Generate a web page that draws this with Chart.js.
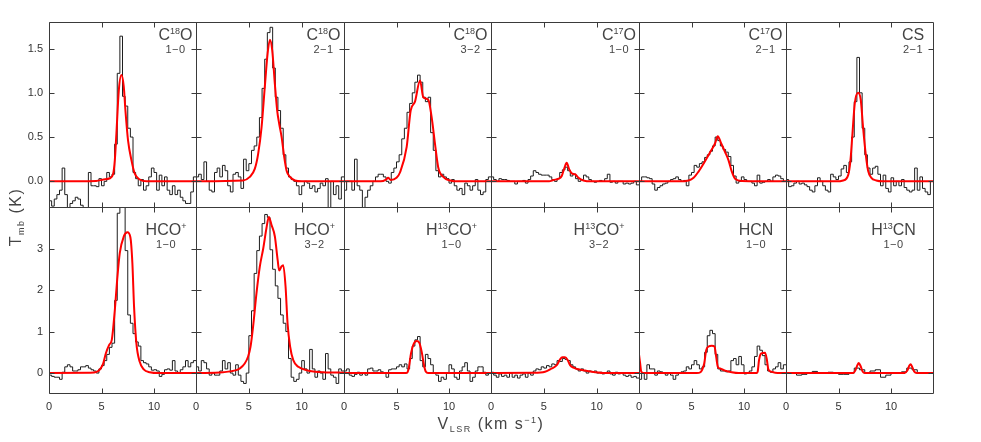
<!DOCTYPE html>
<html>
<head>
<meta charset="utf-8">
<script src="https://cdn.jsdelivr.net/npm/chart.js@4.4.1/dist/chart.umd.min.js"></script>
<style>
html,body{margin:0;padding:0;background:#fff;}
#wrap{position:relative;width:981px;height:442px;overflow:hidden;background:#fff;}
#wrap canvas{position:absolute;}
#txt{position:absolute;left:0;top:0;pointer-events:none;z-index:5;}
</style>
</head>
<body>
<div id="wrap"></div>
<script>
// ---------------- DATA ----------------
const velocityTicks = [0, 5, 10];
const velocityTickLabels = ['0', '5', '10'];
const tmbTicksTop = [0, 0.5, 1.0, 1.5];
const tmbTickLabelsTop = ['0.0', '0.5', '1.0', '1.5'];
const tmbTicksBottom = [0, 1, 2, 3];
const tmbTickLabelsBottom = ['0', '1', '2', '3'];

const transitions = ['1−0','2−1','3−2','1−0','2−1','2−1','1−0','3−2','1−0','3−2','1−0','1−0'];
const speciesParts = [
  [['C'],['18','sup'],['O']],
  [['C'],['18','sup'],['O']],
  [['C'],['18','sup'],['O']],
  [['C'],['17','sup'],['O']],
  [['C'],['17','sup'],['O']],
  [['CS']],
  [['HCO'],['+','sup']],
  [['HCO'],['+','sup']],
  [['H'],['13','sup'],['CO'],['+','sup']],
  [['H'],['13','sup'],['CO'],['+','sup']],
  [['HCN']],
  [['H'],['13','sup'],['CN']]
];

// channel grid (km/s): start velocity and channel width per spectrum
const chanStart = [0,0,0,0,0,0,0,0,0,0,0,0];
const chanWidth = [0.25,0.25,0.25,0.25,0.25,0.25,0.25,0.25,0.25,0.25,0.25,0.5];

// observed spectra, Tmb (K) per channel
const C18O_10_obs = [-0.22,-0.28,-0.2,-0.15,-0.1,0.15,-0.15,-0.3,-0.25,-0.22,-0.18,-0.2,-0.27,-0.3,-0.3,0.1,-0.05,-0.05,-0.06,0.03,-0.05,0.0,0.1,0.05,0.08,0.42,1.22,1.64,0.96,0.85,0.6,0.5,0.1,0.03,-0.05,0.02,-0.1,-0.05,0.05,0.15,0.1,-0.1,0.07,-0.05,0.05,-0.1,-0.15,-0.05,-0.15,-0.1,-0.18,-0.22,-0.25,-0.25,-0.12,0.05];
const C18O_21_obs = [0.05,0.08,0.02,0.22,0.0,-0.1,-0.12,0.1,0.15,0.05,0.18,0.12,-0.05,-0.12,0.08,0.1,0.05,-0.08,0.25,0.12,0.2,0.35,0.4,0.5,0.72,1.05,1.38,1.68,1.74,1.28,0.95,0.8,0.6,0.3,0.15,0.05,0.02,0.0,-0.05,-0.15,-0.05,0.0,-0.02,-0.08,-0.05,-0.12,-0.08,-0.02,-0.05,0.03,-0.3,0.0,-0.15,-0.05,-0.2,0.05];
const C18O_32_obs = [-0.1,0.0,0.0,-0.1,0.25,-0.05,-0.1,-0.3,-0.18,-0.1,-0.05,0.0,0.05,0.08,0.08,0.05,0.0,-0.02,0.1,0.15,0.22,0.3,0.48,0.6,0.78,0.88,1.0,1.12,1.2,1.12,0.95,0.9,0.95,0.55,0.35,0.12,0.05,0.08,0.05,0.03,-0.02,0.02,-0.05,-0.1,-0.08,-0.15,-0.02,-0.05,-0.1,-0.05,0.02,-0.1,-0.15,-0.12,0.02,0.05];
const C17O_10_obs = [0.05,0.02,0.0,0.03,0.02,0.02,0.01,0.0,0.0,-0.03,0.0,0.0,0.01,-0.02,0.02,0.06,0.12,0.1,0.08,0.07,0.07,0.07,0.05,0.02,0.0,0.03,0.1,0.13,0.16,0.12,0.06,0.08,0.03,0.0,0.02,0.07,0.05,0.02,0.0,-0.01,0.0,0.01,0.0,0.03,0.08,-0.01,0.0,-0.02,0.0,0.0,-0.03,-0.02,-0.03,-0.02,0.0,-0.04];
const C17O_21_obs = [0.0,0.05,0.05,0.04,0.03,-0.03,-0.1,-0.07,-0.05,-0.03,-0.02,0.0,0.02,0.03,0.05,0.02,0.0,0.01,-0.05,0.07,0.1,0.18,0.16,0.2,0.22,0.27,0.3,0.34,0.4,0.5,0.46,0.4,0.36,0.33,0.28,0.18,0.06,-0.02,0.0,0.05,0.02,0.0,0.0,-0.02,-0.05,0.07,-0.02,-0.01,0.0,0.02,0.0,0.05,0.07,0.06,0.03,0.0];
const CS_21_obs = [0.02,-0.06,-0.05,-0.02,0.0,-0.03,-0.02,-0.04,-0.06,-0.1,-0.12,-0.05,0.04,0.0,-0.05,-0.1,-0.12,0.08,0.05,0.02,0.06,0.14,0.18,0.1,0.22,0.5,0.9,1.4,1.0,0.6,0.3,0.15,0.08,0.15,0.17,0.08,-0.05,0.07,-0.08,-0.12,0.04,-0.05,0.0,-0.05,0.02,-0.07,-0.1,-0.12,-0.1,0.15,-0.1,0.05,-0.08,-0.12,-0.15,0.0];
const HCOp_10_obs = [-0.05,-0.08,-0.1,-0.1,-0.15,0.02,0.15,0.2,0.15,0.05,0.05,0.08,0.15,0.15,0.18,0.12,0.08,0.05,0.0,0.1,0.18,0.3,0.45,0.62,0.72,1.75,3.85,4.5,4.3,2.95,1.4,1.2,0.95,0.75,0.65,0.3,0.25,0.22,0.15,0.07,0.08,0.05,-0.08,-0.03,0.08,0.1,0.07,0.3,0.05,0.0,0.08,0.15,0.3,0.15,0.25,0.3];
const HCOp_32_obs = [0.15,0.05,0.3,0.25,0.1,-0.05,0.0,-0.05,-0.05,0.05,0.3,0.1,0.25,0.0,-0.05,0.2,-0.05,-0.2,-0.25,0.0,0.9,1.5,2.4,2.95,3.3,3.6,3.82,3.75,2.97,2.5,2.1,1.8,1.4,1.2,1.0,0.35,-0.1,-0.2,-0.15,0.0,0.3,0.1,0.0,0.57,0.1,-0.1,0.05,0.0,-0.15,0.47,0.1,-0.05,-0.1,-0.25,0.1,0.05];
const H13COp_10_obs = [0.05,0.1,-0.05,-0.08,-0.03,0.02,-0.05,0.0,-0.05,0.1,0.12,0.05,0.05,0.08,0.03,0.0,-0.1,0.08,0.1,0.1,0.15,0.2,0.15,0.22,0.1,0.35,0.65,0.8,0.88,0.3,0.15,0.45,0.35,0.2,0.0,-0.05,-0.2,-0.1,-0.15,0.0,0.2,0.1,-0.1,-0.15,0.05,0.15,0.25,0.05,-0.2,-0.1,0.05,0.15,0.15,0.02,-0.05,0.0];
const H13COp_32_obs = [0.02,-0.05,-0.1,-0.02,-0.08,-0.05,-0.1,0.0,-0.1,-0.05,-0.12,-0.05,-0.02,-0.1,0.0,-0.05,0.05,0.1,0.08,0.15,0.12,0.18,0.15,0.22,0.2,0.3,0.28,0.35,0.33,0.3,0.2,0.15,0.1,0.05,0.1,0.05,0.0,0.05,0.03,0.05,0.0,0.02,-0.02,0.0,0.05,-0.02,-0.05,0.02,-0.02,0.0,-0.05,-0.08,-0.05,-0.1,-0.08,-0.12];
const HCN_10_obs = [-0.15,0.0,-0.15,0.2,0.1,0.1,-0.05,0.05,0.03,0.0,-0.05,0.0,-0.05,-0.15,-0.05,0.0,0.03,0.05,0.15,0.1,0.2,0.3,0.2,0.1,0.15,0.5,0.9,1.03,0.95,0.45,0.1,0.05,0.05,0.03,0.05,0.3,0.35,0.2,0.4,0.2,-0.02,0.0,0.05,0.15,0.4,0.65,0.55,0.42,0.2,0.05,0.02,0.1,0.15,0.25,0.1,0.2];
const H13CN_10_obs = [0.0,0.0,-0.05,-0.03,0.0,0.04,0.0,0.0,0.02,0.0,-0.03,-0.03,0.0,0.12,0.08,0.0,0.05,0.08,-0.1,-0.05,0.0,0.0,0.03,0.12,0.08,0.0,0.0,0.0];

// model fits, [velocity (km/s), Tmb (K)]
const C18O_10_fit = [[0,0],[4.5,0.005],[5.2,0.02],[5.8,0.035],[6.1,0.08],[6.27,0.24],[6.42,0.54],[6.65,1.03],[6.9,1.2],[7.12,1.07],[7.28,0.8],[7.53,0.46],[7.85,0.24],[8.16,0.09],[8.64,0.02],[9.3,0],[14,0]];
const C18O_21_fit = [[0,0],[4.45,0.01],[5.09,0.05],[5.56,0.14],[5.88,0.31],[6.2,0.61],[6.51,1.07],[6.77,1.44],[6.99,1.6],[7.21,1.48],[7.46,1.1],[7.68,0.8],[7.87,0.65],[8.1,0.5],[8.35,0.27],[8.57,0.12],[8.89,0.05],[9.36,0.01],[10,0],[14,0]];
const C18O_32_fit = [[0,0],[3.5,0],[4.0,0.02],[4.2,0.04],[4.45,0.015],[5.0,0.04],[5.33,0.1],[5.97,0.39],[6.35,0.8],[6.76,0.9],[7.24,1.14],[7.55,0.95],[8.03,0.92],[8.34,0.73],[8.66,0.43],[8.97,0.16],[9.45,0.05],[10.1,0.01],[11,0],[14,0]];
const C17O_10_fit = [[0,0],[5.5,0],[5.9,0.015],[6.4,0.03],[6.69,0.06],[6.94,0.15],[7.16,0.21],[7.38,0.14],[7.64,0.09],[7.95,0.08],[8.27,0.04],[8.74,0.01],[9.5,0],[14,0]];
const C17O_21_fit = [[0,0],[3.8,0],[4.72,0.01],[5.2,0.04],[5.67,0.11],[6.15,0.2],[6.78,0.33],[7.25,0.43],[7.5,0.51],[7.82,0.43],[8.2,0.33],[8.52,0.24],[8.84,0.11],[9.15,0.03],[9.8,0.005],[14,0]];
const CS_21_fit = [[0,0],[4.8,0],[5.44,0.01],[5.92,0.07],[6.14,0.24],[6.33,0.54],[6.55,0.88],[6.87,1.0],[7.12,0.92],[7.34,0.61],[7.59,0.31],[7.82,0.12],[8.13,0.04],[8.6,0.01],[9.2,0],[14,0]];
const HCOp_10_fit = [[0,0],[3.9,0.01],[4.53,0.03],[5.16,0.23],[5.41,0.47],[5.73,0.68],[5.98,0.8],[6.27,1.52],[6.49,2.24],[6.74,2.89],[7.12,3.29],[7.47,3.39],[7.75,3.27],[7.94,2.65],[8.1,1.6],[8.32,0.72],[8.64,0.27],[9.02,0.09],[9.59,0.02],[10.5,0],[14,0]];
const HCOp_32_fit = [[0,0],[2.56,0.02],[3.82,0.07],[4.14,0.11],[4.61,0.23],[4.93,0.4],[5.16,0.64],[5.4,1.12],[5.72,1.92],[6.04,2.57],[6.36,3.0],[6.67,3.5],[6.89,3.76],[7.14,3.57],[7.46,3.29],[7.72,2.73],[7.87,2.47],[8.09,2.57],[8.25,2.6],[8.47,2.09],[8.66,1.2],[8.9,0.64],[9.2,0.31],[9.68,0.15],[10.47,0.07],[12.05,0.02],[14,0.01]];
const H13COp_10_fit = [[0,0],[5.9,0],[6.05,0.02],[6.19,0.15],[6.38,0.47],[6.6,0.68],[6.92,0.77],[7.17,0.73],[7.4,0.51],[7.62,0.19],[7.8,0.03],[8.0,0],[14,0]];
const H13COp_32_fit = [[0,0],[4.0,0.005],[5.11,0.03],[5.74,0.11],[6.22,0.19],[6.53,0.33],[6.75,0.38],[7.0,0.38],[7.26,0.31],[7.48,0.19],[7.8,0.13],[8.27,0.09],[8.9,0.06],[9.85,0.02],[10.8,0],[14,0]];
const HCN_10_fit = [[0,0.45],[0.1,0.25],[0.22,0.03],[0.4,0],[5.5,0],[5.85,0.02],[6.0,0.07],[6.21,0.23],[6.4,0.55],[6.62,0.64],[6.94,0.66],[7.19,0.64],[7.35,0.39],[7.51,0.15],[7.73,0.11],[8.2,0.06],[8.84,0.02],[9.5,0],[11.2,0],[11.3,0.03],[11.43,0.31],[11.62,0.47],[12.0,0.49],[12.16,0.35],[12.32,0.09],[12.63,0.03],[13.2,0],[14,0]];
const H13CN_10_fit = [[0,0],[6.4,0],[6.6,0.06],[6.8,0.19],[6.93,0.24],[7.1,0.17],[7.3,0.04],[7.5,0],[11.3,0],[11.55,0.06],[11.75,0.18],[11.87,0.21],[12.0,0.16],[12.2,0.04],[12.45,0],[14,0]];

const observed = [C18O_10_obs, C18O_21_obs, C18O_32_obs, C17O_10_obs, C17O_21_obs, CS_21_obs,
                  HCOp_10_obs, HCOp_32_obs, H13COp_10_obs, H13COp_32_obs, HCN_10_obs, H13CN_10_obs];
const fits = [C18O_10_fit, C18O_21_fit, C18O_32_fit, C17O_10_fit, C17O_21_fit, CS_21_fit,
              HCOp_10_fit, HCOp_32_fit, H13COp_10_fit, H13COp_32_fit, HCN_10_fit, H13CN_10_fit];

// ---------------- LAYOUT ----------------
const colEdges = [49, 196, 344, 491, 639, 786, 933];
const rowEdges = [22, 207, 393];
const yRanges = [[-0.29, 1.8], [-0.48, 4.0]];
const vRange = [0, 14];
const labelOffset = [20.5, 20.5, 20.5, 20, 20.5, 20, 30, 29.5, 39.5, 40, 30, 39.5];
const AXW = 49, AXH = 40, PAD_T = 20, PAD_R = 14;
const FONT = '"Liberation Sans", Arial, Helvetica, sans-serif';
const TEXT_COLOR = '#444';
const FRAME_COLOR = '#3a3a3a';

const wrap = document.getElementById('wrap');

const framePlugin = {
  id: 'panelFrame',
  afterDraw(chart, args, o) {
    const {ctx, chartArea: a} = chart;
    const xs = chart.scales.x, ys = chart.scales.y;
    const L = Math.round(a.left) + 0.5, R = Math.round(a.right) + 0.5;
    const T = Math.round(a.top) + 0.5, B = Math.round(a.bottom) + 0.5;
    ctx.save();
    ctx.strokeStyle = o.color;
    ctx.lineWidth = 1;
    ctx.beginPath();
    ctx.moveTo(L, T); ctx.lineTo(R, T); ctx.lineTo(R, B); ctx.lineTo(L, B); ctx.closePath();
    o.yTicks.forEach(v => {
      const py = Math.round(ys.getPixelForValue(v)) + 0.5;
      ctx.moveTo(L, py); ctx.lineTo(L + o.len, py);
      ctx.moveTo(R, py); ctx.lineTo(R - o.len, py);
    });
    o.xTicks.forEach(v => {
      const px = Math.round(xs.getPixelForValue(v)) + 0.5;
      ctx.moveTo(px, T); ctx.lineTo(px, T + o.len);
      ctx.moveTo(px, B); ctx.lineTo(px, B - o.len);
    });
    ctx.stroke();
    ctx.restore();
  }
};

observed.forEach((obs, idx) => {
  const r = Math.floor(idx / 6), c = idx % 6;
  const x0 = colEdges[c], x1 = colEdges[c + 1], y0 = rowEdges[r], y1 = rowEdges[r + 1];
  const W = (x1 - x0) + AXW + PAD_R, H = (y1 - y0) + AXH + PAD_T;
  const cv = document.createElement('canvas');
  cv.width = W; cv.height = H;
  cv.style.width = W + 'px'; cv.style.height = H + 'px';
  cv.style.left = (x0 - AXW) + 'px'; cv.style.top = (y0 - PAD_T) + 'px';
  wrap.appendChild(cv);

  const histPts = obs.map((t, i) => ({x: chanStart[idx] + i * chanWidth[idx], y: t}));
  histPts.push({x: chanStart[idx] + obs.length * chanWidth[idx], y: obs[obs.length - 1]});
  const fitPts = fits[idx].map(p => ({x: p[0], y: p[1]}));
  const yT = r === 0 ? tmbTicksTop : tmbTicksBottom;
  const yL = r === 0 ? tmbTickLabelsTop : tmbTickLabelsBottom;

  new Chart(cv, {
    type: 'line',
    data: {
      datasets: [
        {data: fitPts, borderColor: '#ff0000', borderWidth: 2, pointRadius: 0, fill: false,
         cubicInterpolationMode: 'monotone', clip: 0},
        {data: histPts, borderColor: '#1e1e1e', borderWidth: 1, pointRadius: 0, fill: false,
         stepped: 'before', clip: 0}
      ]
    },
    options: {
      responsive: false, animation: false, events: [],
      layout: {padding: {top: PAD_T, right: PAD_R, left: 0, bottom: 0}, autoPadding: false},
      plugins: {
        legend: {display: false}, tooltip: {enabled: false},
        panelFrame: {color: FRAME_COLOR, len: 5, yTicks: yT, xTicks: velocityTicks}
      },
      scales: {
        x: {
          type: 'linear', min: vRange[0], max: vRange[1],
          afterBuildTicks: s => { s.ticks = velocityTicks.map(v => ({value: v})); },
          afterFit: s => { s.height = AXH; },
          grid: {display: false, drawTicks: false}, border: {display: false},
          ticks: {display: r === 1, padding: 7, maxRotation: 0, autoSkip: false, color: '#333',
                  font: {family: FONT, size: 11}, callback: (v, i) => velocityTickLabels[i]}
        },
        y: {
          type: 'linear', min: yRanges[r][0], max: yRanges[r][1],
          afterBuildTicks: s => { s.ticks = yT.map(v => ({value: v})); },
          afterFit: s => { s.width = AXW; },
          grid: {display: false, drawTicks: false}, border: {display: false},
          ticks: {display: c === 0, padding: 6, autoSkip: false, color: '#333',
                  font: {family: FONT, size: 11}, callback: (v, i) => yL[i]}
        }
      }
    },
    plugins: [framePlugin]
  });
});

// ---------------- TEXT (SVG) ----------------
const NS = 'http://www.w3.org/2000/svg';
const svg = document.createElementNS(NS, 'svg');
svg.setAttribute('id', 'txt'); svg.setAttribute('width', 981); svg.setAttribute('height', 442);
wrap.appendChild(svg);

function addText(x, y, parts, size, opt) {
  opt = opt || {};
  const t = document.createElementNS(NS, 'text');
  t.setAttribute('x', x); t.setAttribute('y', y);
  t.setAttribute('text-anchor', 'middle');
  t.setAttribute('font-size', size);
  t.setAttribute('font-family', FONT);
  t.setAttribute('fill', TEXT_COLOR);
  if (opt.transform) t.setAttribute('transform', opt.transform);
  if (opt.spacing) t.setAttribute('letter-spacing', opt.spacing);
  let shift = 0;
  parts.forEach(([s, kind]) => {
    const sp = document.createElementNS(NS, 'tspan');
    const target = kind === 'sup' ? -(opt.supRise || 6) : kind === 'sub' ? (opt.subDrop || 3) : 0;
    if (target !== shift) sp.setAttribute('dy', target - shift);
    shift = target;
    if (kind) sp.setAttribute('font-size', opt.smallSize || 9);
    sp.textContent = s;
    t.appendChild(sp);
  });
  svg.appendChild(t);
}

speciesParts.forEach((parts, idx) => {
  const r = Math.floor(idx / 6), c = idx % 6;
  const cx = colEdges[c + 1] - labelOffset[idx];
  const base = r === 0 ? 39.5 : 234.5;
  addText(cx, base, parts, 16, {supRise: 6, smallSize: 9});
  addText(cx, base + 13.5, [[transitions[idx]]], 11, {spacing: 0.5});
});

addText(491, 429, [['V'], ['LSR', 'sub'], ['  (km  s'], ['−1', 'sup'], [')']], 16, {subDrop: 3, supRise: 6, smallSize: 9, spacing: 1.5});
addText(0, 0, [['T'], ['mb', 'sub'], ['  (K)']], 16, {transform: 'translate(21,217) rotate(-90)', subDrop: 3, smallSize: 9, spacing: 1.5});
</script>
</body>
</html>
